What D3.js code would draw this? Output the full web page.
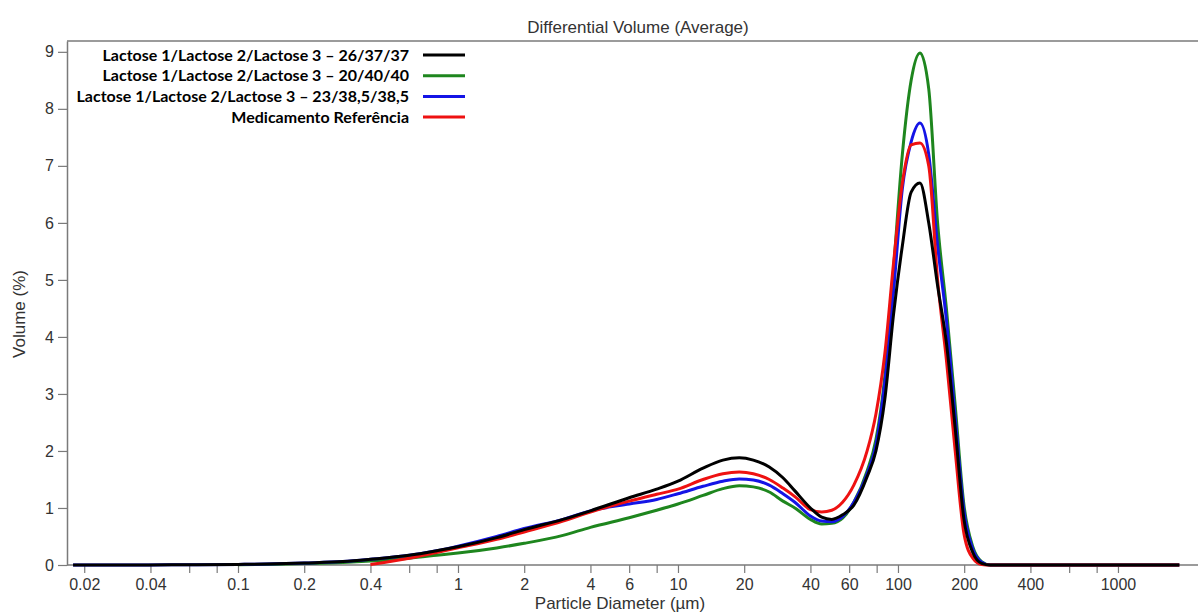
<!DOCTYPE html>
<html>
<head>
<meta charset="utf-8">
<script src="https://cdn.jsdelivr.net/npm/d3@7"></script>
<style>
  body { margin: 0; background: #fff; }
  svg { display: block; }
</style>
</head>
<body>
<div id="chart"></div>
<script>
// particle diameters (µm), shared by all series
var diameters = [0.0178, 0.03, 0.05, 0.1, 0.15, 0.2, 0.3, 0.4, 0.6, 0.8, 1, 1.5, 2, 3, 4, 6, 8, 10, 13, 16, 19, 22, 26, 30, 34, 40, 45, 50, 56, 63,
                 72.4, 79.4, 87.1, 95.5, 104.7, 114.8, 125.9, 138, 151.4, 166, 182, 199.5, 218.8, 240, 263, 500, 1000, 1900];

// differential volume (%), null = no data
var black = [0, 0.001, 0.003, 0.01, 0.02, 0.035, 0.06, 0.1, 0.17, 0.25, 0.32, 0.48, 0.62, 0.8, 0.95, 1.18, 1.33, 1.47, 1.7, 1.84, 1.88, 1.84, 1.72, 1.53, 1.3, 1.0, 0.84, 0.8, 0.88, 1.05,
             1.55, 2.0, 2.9, 4.4, 5.6, 6.54, 6.7, 6.0, 4.9, 3.9, 2.4, 0.8, 0.22, 0.03, 0, 0, 0, 0];
var green = [null, null, null, 0.005, 0.015, 0.025, 0.045, 0.07, 0.12, 0.17, 0.21, 0.3, 0.38, 0.52, 0.66, 0.83, 0.96, 1.07, 1.22, 1.34, 1.39, 1.37, 1.28, 1.12, 1.0, 0.8, 0.72, 0.73, 0.82, 1.1,
             1.65, 2.2, 3.3, 5.2, 7.2, 8.5, 8.98, 8.35, 6.0, 4.5, 2.8, 1.05, 0.32, 0.06, 0, 0, 0, 0];
var blue  = [0, 0.001, 0.003, 0.01, 0.02, 0.035, 0.06, 0.1, 0.17, 0.25, 0.33, 0.5, 0.64, 0.8, 0.95, 1.07, 1.15, 1.25, 1.38, 1.47, 1.51, 1.49, 1.4, 1.25, 1.1, 0.86, 0.77, 0.76, 0.85, 1.1,
             1.6, 2.1, 3.2, 4.8, 6.6, 7.42, 7.75, 7.2, 5.6, 4.3, 2.6, 0.95, 0.28, 0.05, 0, 0, 0, 0];
var red   = [null, null, null, null, null, null, null, 0.01, 0.12, 0.22, 0.3, 0.45, 0.58, 0.77, 0.93, 1.12, 1.24, 1.33, 1.5, 1.6, 1.63, 1.6, 1.5, 1.35, 1.2, 0.97, 0.93, 0.96, 1.1, 1.4,
             2.0, 2.65, 3.7, 5.3, 6.7, 7.37, 7.4, 7.0, 5.0, 3.6, 2.0, 0.55, 0.12, 0.01, 0, 0, 0, 0];

var seriesNames = ["Lactose 1/Lactose 2/Lactose 3 \u2013 26/37/37",
                   "Lactose 1/Lactose 2/Lactose 3 \u2013 20/40/40",
                   "Lactose 1/Lactose 2/Lactose 3 \u2013 23/38,5/38,5",
                   "Medicamento Refer\u00eancia"];
var seriesColors = ["#000000", "#1e861e", "#1414e6", "#ee1111"];
var seriesValues = [black, green, blue, red];

var labeledTicks = [0.02, 0.04, 0.1, 0.2, 0.4, 1, 2, 4, 6, 10, 20, 40, 60, 100, 200, 400, 1000];
var minorTicks = [0.06, 0.08, 0.6, 0.8, 8, 80, 600, 800];
var yTicks = [0, 1, 2, 3, 4, 5, 6, 7, 8, 9];

var W = 1198, H = 613;
var plotL = 67, plotR = 1197, plotT = 41, plotB = 565;

var svg = d3.select("#chart").append("svg")
  .attr("width", W)
  .attr("height", H)
  .style("font-family", "'Liberation Sans', Arial, sans-serif");

var x = d3.scaleLog().domain([0.0167, 2287]).range([plotL, plotR]);
var y = d3.scaleLinear().domain([0, 9.19]).range([plotB, plotT]);

// frame top line, no right border visible
svg.append("line")
  .attr("x1", plotL).attr("x2", W).attr("y1", plotT).attr("y2", plotT)
  .attr("stroke", "#7a7a7a").attr("stroke-width", 1.5);

// x axis
var xAxis = svg.append("g")
  .attr("transform", "translate(0," + plotB + ")")
  .call(d3.axisBottom(x).tickValues(labeledTicks).tickFormat(function(d){ return String(d); })
        .tickSize(8).tickSizeOuter(0).tickPadding(6));
svg.append("g")
  .attr("transform", "translate(0," + plotB + ")")
  .call(d3.axisBottom(x).tickValues(minorTicks).tickFormat("").tickSize(8).tickSizeOuter(0))
  .select(".domain").remove();

// y axis
var yAxis = svg.append("g")
  .attr("transform", "translate(" + plotL + ",0)")
  .call(d3.axisLeft(y).tickValues(yTicks).tickSize(9).tickSizeOuter(0).tickPadding(4));

svg.selectAll(".domain").attr("stroke", "#7a7a7a").attr("stroke-width", 1.5);
svg.selectAll(".tick line").attr("stroke", "#7a7a7a").attr("stroke-width", 1.2);
svg.selectAll(".tick text").attr("fill", "#333").style("font-size", "16px")
  .style("font-family", "'Liberation Sans', Arial, sans-serif");
// bottom axis runs to the image edge
xAxis.select(".domain").attr("d", "M" + plotL + ",0H" + W);

// titles
svg.append("text").attr("x", 638).attr("y", 33).attr("text-anchor", "middle")
  .attr("fill", "#333").style("font-size", "17px").text("Differential Volume (Average)");
svg.append("text").attr("x", 620).attr("y", 609).attr("text-anchor", "middle")
  .attr("fill", "#333").style("font-size", "17px").text("Particle Diameter (\u00b5m)");
svg.append("text").attr("transform", "translate(25,314) rotate(-90)").attr("text-anchor", "middle")
  .attr("fill", "#333").style("font-size", "17px").text("Volume (%)");

// curves: green, blue, red, then black on top
var line = d3.line()
  .defined(function(d){ return d.v !== null; })
  .x(function(d){ return x(d.d); })
  .y(function(d){ return y(d.v); })
  .curve(d3.curveMonotoneX);

[1, 2, 3, 0].forEach(function(i){
  var pts = diameters.map(function(d, k){ return {d: d, v: seriesValues[i][k]}; });
  svg.append("path")
    .datum(pts)
    .attr("d", line)
    .attr("fill", "none")
    .attr("stroke", seriesColors[i])
    .attr("stroke-width", 3)
    .attr("stroke-linejoin", "round");
});

// legend
var legend = svg.append("g");
seriesNames.forEach(function(name, i){
  var ly = 55 + i * 20.7;
  legend.append("text")
    .attr("x", 409).attr("y", ly).attr("dy", "0.35em")
    .attr("text-anchor", "end")
    .style("font-family", "Lato, 'Open Sans', sans-serif")
    .style("font-weight", "bold")
    .style("font-size", "16px")
    .attr("fill", "#000")
    .text(name);
  legend.append("line")
    .attr("x1", 423).attr("x2", 465).attr("y1", ly).attr("y2", ly)
    .attr("stroke", seriesColors[i]).attr("stroke-width", 3);
});
</script>
</body>
</html>
